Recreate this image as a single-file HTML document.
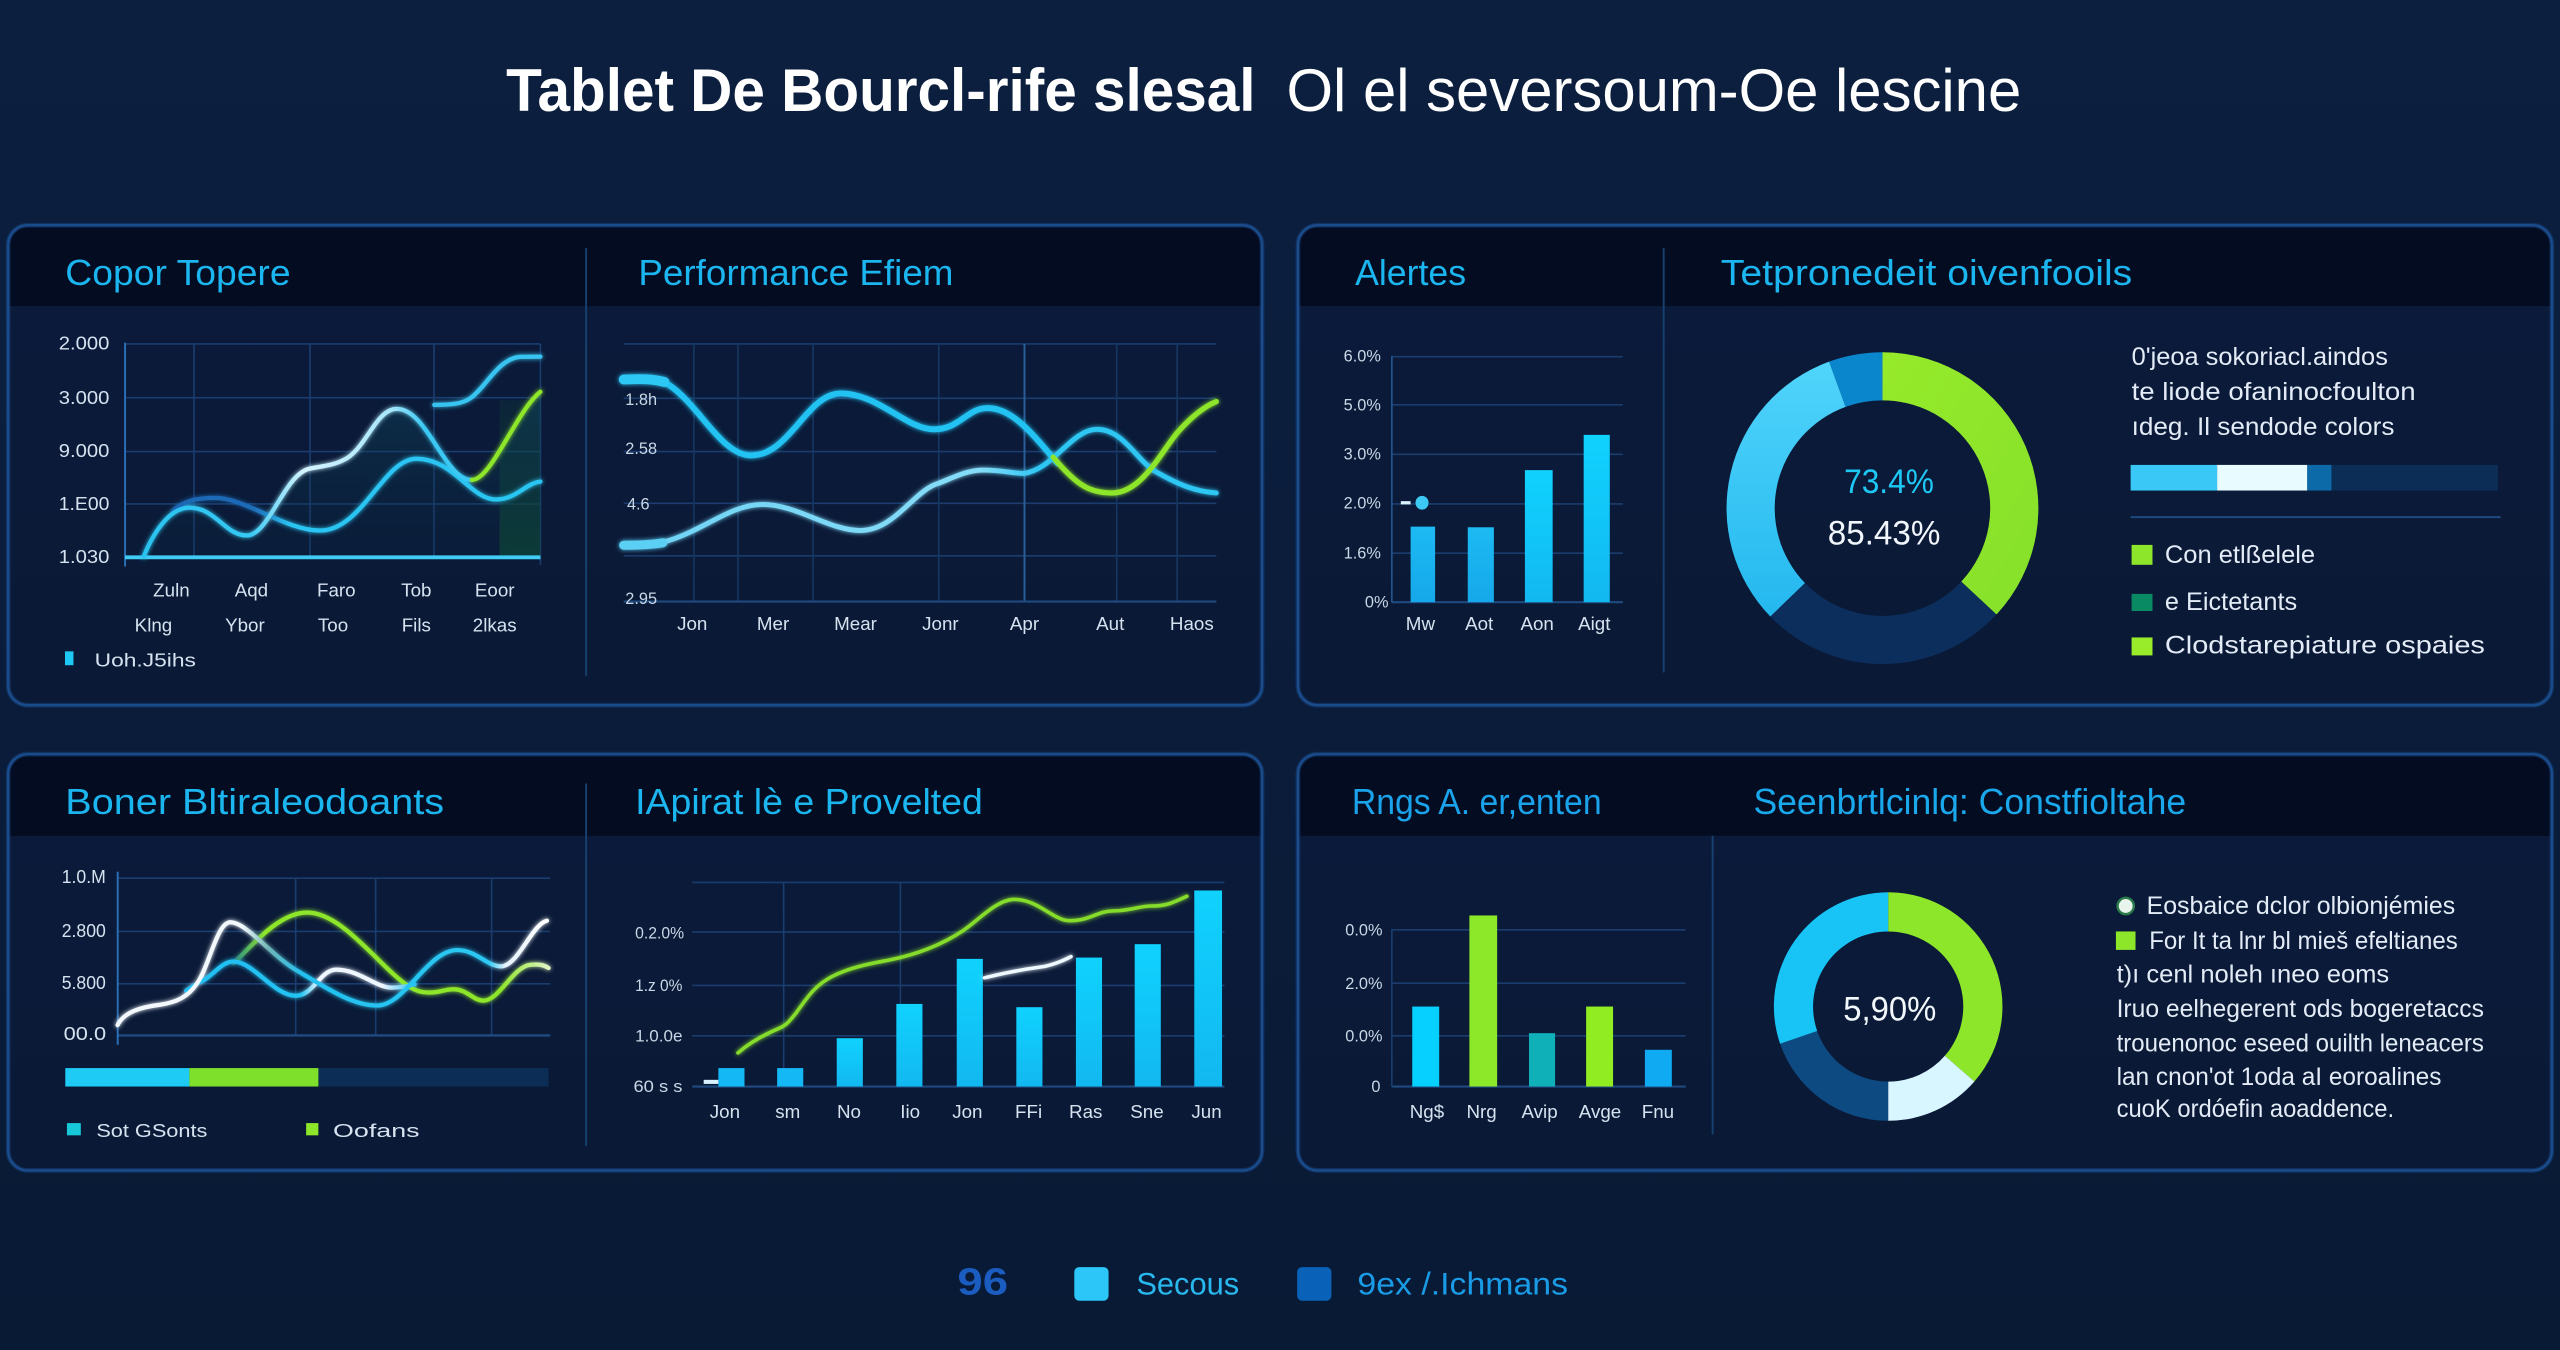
<!DOCTYPE html>
<html><head><meta charset="utf-8"><style>
html,body{margin:0;padding:0;background:#0b1d3a;}
svg{display:block}
.lab{fill:#d6e2ef;font-size:11.5px}
.sm{fill:#c9d7e6;font-size:10px}
.pt{fill:#1bb6ef;font-size:22px}
.bt{fill:#e3ecf6;font-size:15.5px}
</style></head><body>
<svg xmlns="http://www.w3.org/2000/svg" width="2560" height="1350" viewBox="0 0 1568 827" preserveAspectRatio="none" font-family="'Liberation Sans','DejaVu Sans',sans-serif">
<defs>
<linearGradient id="bg" x1="0" y1="0" x2="0" y2="1"><stop offset="0" stop-color="#0c1f3f"/><stop offset="1" stop-color="#091a35"/></linearGradient>
<linearGradient id="pbody" x1="0" y1="0" x2="0" y2="1"><stop offset="0" stop-color="#0b1b3b"/><stop offset="1" stop-color="#0a1935"/></linearGradient>
<clipPath id="c1"><rect x="5" y="138" width="768" height="294" rx="12"/></clipPath>
<clipPath id="c2"><rect x="795" y="138" width="768" height="294" rx="12"/></clipPath>
<clipPath id="c3"><rect x="5" y="462" width="768" height="255" rx="12"/></clipPath>
<clipPath id="c4"><rect x="795" y="462" width="768" height="255" rx="12"/></clipPath>
<filter id="glow" x="-10%" y="-30%" width="120%" height="160%"><feGaussianBlur stdDeviation="1.4" result="b"/><feMerge><feMergeNode in="b"/><feMergeNode in="SourceGraphic"/></feMerge></filter>
<linearGradient id="gA" gradientUnits="userSpaceOnUse" x1="76" y1="0" x2="331" y2="0">
<stop offset="0" stop-color="#29c2f0"/><stop offset="0.3" stop-color="#35c8f3"/><stop offset="0.43" stop-color="#d4f4ff"/><stop offset="0.64" stop-color="#a8e6fb"/><stop offset="0.72" stop-color="#3ac8f2"/><stop offset="1" stop-color="#3ac8f2"/></linearGradient>
<linearGradient id="gB" gradientUnits="userSpaceOnUse" x1="106" y1="0" x2="331" y2="0">
<stop offset="0" stop-color="#1e66b4"/><stop offset="0.22" stop-color="#1f6cb8"/><stop offset="0.32" stop-color="#2cc4f2"/><stop offset="1" stop-color="#2cc6f2"/></linearGradient>
<linearGradient id="gD" gradientUnits="userSpaceOnUse" x1="382" y1="0" x2="745" y2="0">
<stop offset="0" stop-color="#6fd3f5"/><stop offset="0.6" stop-color="#86dcf8"/><stop offset="0.7" stop-color="#2ec6f3"/><stop offset="1" stop-color="#2ec6f3"/></linearGradient>
<linearGradient id="g3A" gradientUnits="userSpaceOnUse" x1="72" y1="0" x2="336" y2="0">
<stop offset="0" stop-color="#f2f8fc"/><stop offset="0.29" stop-color="#f2f8fc"/><stop offset="0.35" stop-color="#6fb6b8"/><stop offset="0.43" stop-color="#22c0f0"/><stop offset="0.86" stop-color="#2cc8f2"/><stop offset="0.9" stop-color="#e6f3fc"/><stop offset="1" stop-color="#ffffff"/></linearGradient>
<linearGradient id="g3B" gradientUnits="userSpaceOnUse" x1="114" y1="0" x2="254" y2="0">
<stop offset="0" stop-color="#20bff2"/><stop offset="0.5" stop-color="#22c2f2"/><stop offset="0.58" stop-color="#eef6ff"/><stop offset="0.86" stop-color="#eef6ff"/><stop offset="1" stop-color="#28c0f0"/></linearGradient>
<linearGradient id="g3C" gradientUnits="userSpaceOnUse" x1="143" y1="0" x2="336" y2="0">
<stop offset="0" stop-color="#2a8a8a"/><stop offset="0.1" stop-color="#8ee62a"/><stop offset="0.85" stop-color="#8ee62a"/><stop offset="1" stop-color="#e2f5c4"/></linearGradient>
<linearGradient id="area" x1="0" y1="0" x2="0" y2="1"><stop offset="0" stop-color="#0f4a5e" stop-opacity="0.45"/><stop offset="1" stop-color="#0a2a44" stop-opacity="0.15"/></linearGradient>
<linearGradient id="garea" x1="0" y1="0" x2="0" y2="1"><stop offset="0" stop-color="#0f4a38" stop-opacity="0.2"/><stop offset="1" stop-color="#0d4a34" stop-opacity="0.75"/></linearGradient>
<linearGradient id="barA" x1="0" y1="0" x2="0" y2="1"><stop offset="0" stop-color="#10d2ff"/><stop offset="1" stop-color="#12b8f0"/></linearGradient>
<linearGradient id="barB" x1="0" y1="0" x2="0" y2="1"><stop offset="0" stop-color="#1cbaf3"/><stop offset="1" stop-color="#16a8ea"/></linearGradient>
<linearGradient id="dg" x1="0" y1="0" x2="1" y2="1"><stop offset="0" stop-color="#96ea2a"/><stop offset="1" stop-color="#86e02a"/></linearGradient>
<linearGradient id="dc" x1="0" y1="0" x2="0" y2="1"><stop offset="0" stop-color="#50d4fb"/><stop offset="1" stop-color="#24b8ef"/></linearGradient>
</defs>

<rect x="0" y="0" width="1568" height="827" fill="url(#bg)"/>

<!-- Title -->
<text x="310" y="68" font-size="37" font-weight="bold" fill="#ffffff" textLength="459" lengthAdjust="spacingAndGlyphs">Tablet De Bourcl-rife slesal</text>
<text x="788" y="68" font-size="37" fill="#ffffff" textLength="450" lengthAdjust="spacingAndGlyphs">Ol el seversoum-Oe lescine</text>

<!-- Panels -->
<g clip-path="url(#c1)"><rect x="5" y="138" width="768" height="294" fill="url(#pbody)"/><rect x="5" y="138" width="768" height="49.5" fill="#040c21"/></g>
<g clip-path="url(#c2)"><rect x="795" y="138" width="768" height="294" fill="url(#pbody)"/><rect x="795" y="138" width="768" height="49.5" fill="#040c21"/></g>
<g clip-path="url(#c3)"><rect x="5" y="462" width="768" height="255" fill="url(#pbody)"/><rect x="5" y="462" width="768" height="50" fill="#040c21"/></g>
<g clip-path="url(#c4)"><rect x="795" y="462" width="768" height="255" fill="url(#pbody)"/><rect x="795" y="462" width="768" height="50" fill="#040c21"/></g>
<g fill="none" stroke="#1d57a0" stroke-width="3" opacity="0.35">
<rect x="5" y="138" width="768" height="294" rx="12"/><rect x="795" y="138" width="768" height="294" rx="12"/>
<rect x="5" y="462" width="768" height="255" rx="12"/><rect x="795" y="462" width="768" height="255" rx="12"/></g>
<g fill="none" stroke="#1a4b8a" stroke-width="1.5">
<rect x="5" y="138" width="768" height="294" rx="12"/><rect x="795" y="138" width="768" height="294" rx="12"/>
<rect x="5" y="462" width="768" height="255" rx="12"/><rect x="795" y="462" width="768" height="255" rx="12"/></g>

<!-- dividers -->
<g stroke="#17406f" stroke-width="1.2">
<line x1="359" y1="152" x2="359" y2="414"/><line x1="1019" y1="152" x2="1019" y2="412"/>
<line x1="359" y1="480" x2="359" y2="702"/><line x1="1049" y1="512" x2="1049" y2="695"/></g>

<!-- Panel titles -->
<text class="pt" x="40" y="174.5" textLength="138" lengthAdjust="spacingAndGlyphs">Copor Topere</text>
<text class="pt" x="391" y="174.5" textLength="193" lengthAdjust="spacingAndGlyphs">Performance Efiem</text>
<text class="pt" x="830" y="174.5" textLength="68" lengthAdjust="spacingAndGlyphs">Alertes</text>
<text class="pt" x="1054" y="174.5" textLength="252" lengthAdjust="spacingAndGlyphs">Tetpronedeit oivenfooils</text>
<text class="pt" x="40" y="498.6" textLength="232" lengthAdjust="spacingAndGlyphs">Boner Bltiraleodoants</text>
<text class="pt" x="389" y="498.6" textLength="213" lengthAdjust="spacingAndGlyphs">IApirat lè e Provelted</text>
<text class="pt" x="828" y="498.6" textLength="153" lengthAdjust="spacingAndGlyphs" style="fill:#1aa2ea">Rngs A. er,enten</text>
<text class="pt" x="1074" y="498.6" textLength="265" lengthAdjust="spacingAndGlyphs" style="fill:#1aa8ec">Seenbrtlcinlq: Constfioltahe</text>

<!-- ===== Chart 1 ===== -->
<g stroke="#1a3d6e" stroke-width="1">
<line x1="76.6" y1="210.7" x2="331" y2="210.7"/><line x1="76.6" y1="243.6" x2="331" y2="243.6"/>
<line x1="76.6" y1="276.6" x2="331" y2="276.6"/><line x1="76.6" y1="308.7" x2="331" y2="308.7"/>
<line x1="118.8" y1="210.7" x2="118.8" y2="341"/><line x1="189.9" y1="210.7" x2="189.9" y2="341"/>
<line x1="265.8" y1="210.7" x2="265.8" y2="341"/><line x1="331" y1="210.7" x2="331" y2="346"/></g>
<line x1="76.6" y1="210" x2="76.6" y2="347" stroke="#2a6fb5" stroke-width="1.2"/>
<rect x="306" y="245" width="25" height="96" fill="url(#garea)"/>
<path d="M88,341 C94,326 104,311 116,311 C132,311 138,328 151,328 C165,328 174,290 190,287 C198,285.5 204,285 210,282 C224,276 230,250.5 243,250.5 C262,250.5 272,294 289,294 C301,294 316,252 331,240 L331,341 Z" fill="url(#area)"/>
<line x1="76.6" y1="341.4" x2="331" y2="341.4" stroke="#40ccf4" stroke-width="2.4"/>
<g fill="none" stroke-width="2.6" stroke-linecap="round" filter="url(#glow)">
<path d="M106,313 C112,307 120,305 132,305 C150,305 175,325 196,325 C222,325 235,281 255,281 C278,281 288,306 304,306 C316,306 322,296 331,295" stroke="url(#gB)"/>
<path d="M88,341 C94,326 104,311 116,311 C132,311 138,328 151,328 C165,328 174,290 190,287 C198,285.5 204,285 210,282 C224,276 230,250.5 243,250.5 C262,250.5 272,294 289,294" stroke="url(#gA)"/>
<path d="M289,294 C301,294 316,252 331,240" stroke="#8ee62a"/>
<path d="M266,248 C276,248 283,247.5 288,244 C297,238 305,220 318,218.6 L331,218.5" stroke="#38c4f0"/>
</g>
<g class="lab" font-size="11.5">
<text x="36" y="214" textLength="31" lengthAdjust="spacingAndGlyphs">2.000</text>
<text x="36" y="247.5" textLength="31" lengthAdjust="spacingAndGlyphs">3.000</text>
<text x="36" y="280" textLength="31" lengthAdjust="spacingAndGlyphs">9.000</text>
<text x="36" y="312.5" textLength="31" lengthAdjust="spacingAndGlyphs">1.E00</text>
<text x="36" y="345" textLength="31" lengthAdjust="spacingAndGlyphs">1.030</text>
</g>
<g class="lab" font-size="12.5" text-anchor="middle">
<text x="105" y="365.5">Zuln</text><text x="154" y="365.5">Aqd</text><text x="206" y="365.5">Faro</text><text x="255" y="365.5">Tob</text><text x="303" y="365.5">Eoor</text>
<text x="94" y="387">Klng</text><text x="150" y="387">Ybor</text><text x="204" y="387">Too</text><text x="255" y="387">Fils</text><text x="303" y="387">2lkas</text>
</g>
<rect x="39.8" y="399" width="5.2" height="8.5" fill="#1ec8f5"/>
<text class="lab" x="58" y="408.3" font-size="13" textLength="62" lengthAdjust="spacingAndGlyphs">Uoh.J5ihs</text>

<!-- ===== Chart 2 Performance ===== -->
<g stroke="#1a3d6e" stroke-width="1">
<line x1="382" y1="210.7" x2="745" y2="210.7"/><line x1="382" y1="244" x2="745" y2="244"/>
<line x1="382" y1="276.6" x2="745" y2="276.6"/><line x1="382" y1="308.3" x2="745" y2="308.3"/>
<line x1="382" y1="340.5" x2="745" y2="340.5"/></g>
<g stroke="#163660" stroke-width="1">
<line x1="425" y1="210.7" x2="425" y2="368.5"/><line x1="452" y1="210.7" x2="452" y2="368.5"/>
<line x1="498" y1="210.7" x2="498" y2="368.5"/><line x1="575" y1="210.7" x2="575" y2="368.5"/>
<line x1="684" y1="210.7" x2="684" y2="368.5"/><line x1="721" y1="210.7" x2="721" y2="368.5"/></g>
<line x1="627.5" y1="210.7" x2="627.5" y2="368.5" stroke="#2a5f9a" stroke-width="1.2"/>
<line x1="382" y1="368.5" x2="745" y2="368.5" stroke="#1f4a80" stroke-width="1.3"/>
<g class="sm">
<text x="383" y="248">1.8h</text><text x="383" y="278">2.58</text><text x="384" y="312">4.6</text><text x="383" y="370">2.95</text>
</g>
<g fill="none" stroke-linecap="round" filter="url(#glow)">
<path d="M382,334 C395,334 402,333 410,331 C432,324 448,309 467,309 C488,309 508,325 527,325 C548,325 560,300 575,296 C585,292 592,288.5 600,288 C612,287.5 620,290 627,290 C645,288 656,263 672,263 C688,263 696,282 708,289 C722,297 732,301 745,302" stroke="url(#gD)" stroke-width="3"/>
<path d="M382,232 C392,231 402,231 410,236 C428,248 442,279 460,279 C484,279 494,241 515,241 C538,241 555,263 572,263 C588,263 592,250 605,250 C621,250 634,268 648,284" stroke="#22c3f3" stroke-width="3.6"/>
<path d="M382,232.5 C392,232 400,232 407,234" stroke="#2ec8f5" stroke-width="6"/>
<path d="M382,334 C392,334 400,333.5 406,332.5" stroke="#5ccff5" stroke-width="5.5"/>
<path d="M645,280 C660,298 668,302 681,302 C700,302 712,275 722,264 C732,253 740,248 745,246" stroke="#8ee62a" stroke-width="3.2"/>
</g>
<g class="lab" font-size="12" text-anchor="middle">
<text x="424" y="386">Jon</text><text x="473.5" y="386">Mer</text><text x="524" y="386">Mear</text><text x="576" y="386">Jonr</text><text x="627.5" y="386">Apr</text><text x="680" y="386">Aut</text><text x="730" y="386">Haos</text>
</g>

<!-- ===== Alertes bar chart ===== -->
<g stroke="#1a3d6e" stroke-width="1">
<line x1="852.5" y1="218.5" x2="994" y2="218.5"/><line x1="852.5" y1="248" x2="994" y2="248"/>
<line x1="852.5" y1="278.3" x2="994" y2="278.3"/><line x1="852.5" y1="308.7" x2="994" y2="308.7"/>
<line x1="852.5" y1="338.9" x2="994" y2="338.9"/></g>
<line x1="852.5" y1="368.9" x2="994" y2="368.9" stroke="#1f4a80" stroke-width="1.3"/>
<line x1="852.5" y1="218" x2="852.5" y2="369" stroke="#24558f" stroke-width="1"/>
<rect x="864" y="322.6" width="15" height="46.3" fill="url(#barB)"/>
<rect x="899" y="323" width="16" height="45.9" fill="url(#barB)"/>
<rect x="934" y="288" width="17" height="80.9" fill="url(#barA)"/>
<rect x="970" y="266.4" width="16" height="102.5" fill="url(#barA)"/>
<rect x="858" y="307" width="6" height="2" fill="#d8f2ff"/>
<ellipse cx="871" cy="308" rx="4" ry="4.2" fill="#3ccaf5"/>
<g class="sm" font-size="9.5">
<text x="823" y="221.5">6.0%</text><text x="823" y="251.5">5.0%</text><text x="823" y="281.5">3.0%</text>
<text x="823" y="311.5">2.0%</text><text x="823" y="342">1.6%</text><text x="836" y="372">0%</text>
</g>
<g class="lab" font-size="11" text-anchor="middle">
<text x="870" y="386">Mw</text><text x="906" y="386">Aot</text><text x="941.5" y="386">Aon</text><text x="976.5" y="386">Aigt</text>
</g>

<!-- Donut 1 -->
<path d="M1153,215.8 A95.5,95.5 0 0 1 1222.85,376.43 L1201.27,356.31 A66,66 0 0 0 1153,245.3 Z" fill="url(#dg)"/>
<path d="M1222.85,376.43 A95.5,95.5 0 0 1 1084.31,377.64 L1105.53,357.15 A66,66 0 0 0 1201.27,356.31 Z" fill="#0c2e5c"/>
<path d="M1084.31,377.64 A95.5,95.5 0 0 1 1120.34,221.56 L1130.43,249.28 A66,66 0 0 0 1105.53,357.15 Z" fill="url(#dc)"/>
<path d="M1120.34,221.56 A95.5,95.5 0 0 1 1153,215.8 L1153,245.3 A66,66 0 0 0 1130.43,249.28 Z" fill="#0a86cc"/>
<text x="1157" y="302" font-size="21" fill="#1ec8f5" text-anchor="middle" textLength="55" lengthAdjust="spacingAndGlyphs">73.4%</text>
<text x="1154" y="333.5" font-size="21" fill="#f0f6fb" text-anchor="middle" textLength="69" lengthAdjust="spacingAndGlyphs">85.43%</text>

<!-- Panel 2 right text -->
<text class="bt" x="1305.6" y="223.5" textLength="157" lengthAdjust="spacingAndGlyphs">0'jeoa sokoriacl.aindos</text>
<text class="bt" x="1305.6" y="245" textLength="174" lengthAdjust="spacingAndGlyphs">te liode ofaninocfoulton</text>
<text class="bt" x="1305.6" y="266.4" textLength="161" lengthAdjust="spacingAndGlyphs">ıdeg. Il sendode colors</text>
<rect x="1305" y="284.8" width="225" height="15.7" fill="#0c2d55"/>
<rect x="1305" y="284.8" width="53" height="15.7" fill="#3ac8f6"/>
<rect x="1358" y="284.8" width="55.2" height="15.7" fill="#e8fbff"/>
<rect x="1413.2" y="284.8" width="14.8" height="15.7" fill="#0c6aa8"/>
<line x1="1305" y1="316.8" x2="1531.6" y2="316.8" stroke="#1d4a80" stroke-width="1.2"/>
<rect x="1305.6" y="333.8" width="12.8" height="12.2" fill="#8ee62a"/>
<text class="bt" x="1326" y="345" textLength="92" lengthAdjust="spacingAndGlyphs">Con etlßelele</text>
<rect x="1305.6" y="363.8" width="12.8" height="10.5" fill="#0a8a62"/>
<text class="bt" x="1326" y="373.6" textLength="81" lengthAdjust="spacingAndGlyphs">e Eictetants</text>
<rect x="1305.6" y="390.5" width="12.8" height="11" fill="#98ec2a"/>
<text class="bt" x="1326" y="400.2" textLength="196" lengthAdjust="spacingAndGlyphs">Clodstarepiature ospaies</text>

<!-- ===== Chart 3 (bottom left) ===== -->
<g stroke="#1a3d6e" stroke-width="1">
<line x1="72" y1="538" x2="337" y2="538"/><line x1="72" y1="570.6" x2="337" y2="570.6"/>
<line x1="72" y1="602.7" x2="337" y2="602.7"/>
<line x1="181.1" y1="538" x2="181.1" y2="634"/><line x1="230.1" y1="538" x2="230.1" y2="634"/><line x1="301.1" y1="538" x2="301.1" y2="634"/></g>
<line x1="72" y1="634.3" x2="337" y2="634.3" stroke="#1f4a80" stroke-width="1.5"/>
<line x1="72.1" y1="534" x2="72.1" y2="640" stroke="#2a6fb5" stroke-width="1.2"/>
<g fill="none" stroke-width="2.6" stroke-linecap="round" filter="url(#glow)">
<path d="M143,590 C152,582 170,559 188,559 C210,559 232,592 250,604 C256,608 260,608 264,608 C270,608 272,606 278,606 C286,606 290,613 296,613 C306,613 314,592 325,591 C330,590.5 333,591 336,593" stroke="url(#g3C)"/>
<path d="M114,607 C118,604 121,602 124,601 C131,597 136,589 143,589 C155,589 168,610 181,610 C192,610 196,594 206,594 C220,594 230,605 240,605 C246,605 250,604 254,603" stroke="url(#g3B)"/>
<path d="M72,628 C76,620 86,617 98,615.5 C108,614 115,611 121,602 C128,592 133,565 141,565 C151,565 166,585 181,594 C198,604 215,616 231,616 C248,616 262,582 280,582 C292,582 298,592 307,592 C317,592 326,566 335,564" stroke="url(#g3A)"/>
</g>
<g class="lab" font-size="11">
<text x="37.8" y="541" textLength="27" lengthAdjust="spacingAndGlyphs">1.0.M</text>
<text x="37.8" y="574" textLength="27" lengthAdjust="spacingAndGlyphs">2.800</text>
<text x="37.8" y="606" textLength="27" lengthAdjust="spacingAndGlyphs">5.800</text>
<text x="39" y="637" textLength="26" lengthAdjust="spacingAndGlyphs">00.0</text>
</g>
<rect x="40" y="654.3" width="296" height="11.3" fill="#0c2d55"/>
<rect x="40" y="654.3" width="76" height="11.3" fill="#1ecbf5"/>
<rect x="116" y="654.3" width="79" height="11.3" fill="#7ee02a"/>
<rect x="41" y="688" width="8.5" height="7.5" fill="#18c8d8"/>
<text class="lab" x="59" y="696.5" font-size="13" textLength="68" lengthAdjust="spacingAndGlyphs">Sot GSonts</text>
<rect x="187.5" y="688" width="7.5" height="7.5" fill="#8ee62a"/>
<text class="lab" x="204" y="696.5" font-size="13" textLength="53" lengthAdjust="spacingAndGlyphs">Oofans</text>

<!-- ===== Chart 4 bars+line ===== -->
<g stroke="#1a3d6e" stroke-width="1">
<line x1="424" y1="540.6" x2="750" y2="540.6"/><line x1="424" y1="571" x2="750" y2="571"/>
<line x1="424" y1="603.7" x2="750" y2="603.7"/><line x1="424" y1="634.5" x2="750" y2="634.5"/>
<line x1="480" y1="540.6" x2="480" y2="665.6"/><line x1="551.5" y1="540.6" x2="551.5" y2="665.6"/></g>
<line x1="424" y1="665.6" x2="750" y2="665.6" stroke="#1f4a80" stroke-width="1.3"/>
<g fill="url(#barA)">
<rect x="440" y="654.3" width="16" height="11.3" fill="#14b8f5"/>
<rect x="476" y="654.3" width="16" height="11.3" fill="#14b8f5"/>
<rect x="512.5" y="636" width="16" height="29.6"/>
<rect x="549" y="615" width="16" height="50.6"/>
<rect x="586" y="587.4" width="16" height="78.2"/>
<rect x="622.5" y="617" width="16" height="48.6"/>
<rect x="659" y="586.6" width="16" height="79"/>
<rect x="695" y="578.4" width="16" height="87.2"/>
<rect x="731.5" y="545.5" width="17" height="120.1"/>
</g>
<g fill="none" stroke-linecap="round" filter="url(#glow)">
<path d="M452,645 C460,638 470,633 477,630 C482,628 484,625 488,620 C495,610 500,603 510,598 C522,592 535,590 545,588 C560,585 575,580 590,570 C600,563 610,552 620,551 C635,550 645,564 655,564 C668,564 672,558 682,558 C692,558 698,555 705,555 C715,555 718,553 727,549" stroke="#86dc2c" stroke-width="2.2"/>
<path d="M603,599 C615,596 625,594 640,592 C648,590 652,588 656,586" stroke="#eef8ff" stroke-width="2.2"/>
</g>
<rect x="431" y="661.5" width="9" height="2.5" fill="#d8f2ff"/>
<g class="sm" font-size="10">
<text x="389" y="575" textLength="30" lengthAdjust="spacingAndGlyphs">0.2.0%</text>
<text x="389" y="607" textLength="29" lengthAdjust="spacingAndGlyphs">1.z 0%</text>
<text x="389" y="638" textLength="29" lengthAdjust="spacingAndGlyphs">1.0.0e</text>
<text x="388" y="669" textLength="30" lengthAdjust="spacingAndGlyphs">60 s s</text>
</g>
<g class="lab" font-size="11" text-anchor="middle">
<text x="444" y="685">Jon</text><text x="482.5" y="685">sm</text><text x="520" y="685">No</text><text x="557.5" y="685">Iio</text><text x="592.5" y="685">Jon</text><text x="630" y="685">FFi</text><text x="665" y="685">Ras</text><text x="702.5" y="685">Sne</text><text x="739" y="685">Jun</text>
</g>

<!-- ===== Panel 4 bar chart ===== -->
<g stroke="#1a3d6e" stroke-width="1">
<line x1="852.5" y1="569.6" x2="1032.5" y2="569.6"/><line x1="852.5" y1="602.3" x2="1032.5" y2="602.3"/>
<line x1="852.5" y1="634.5" x2="1032.5" y2="634.5"/></g>
<line x1="852.5" y1="665.6" x2="1032.5" y2="665.6" stroke="#1f4a80" stroke-width="1.3"/>
<line x1="852.5" y1="569" x2="852.5" y2="666" stroke="#1a3d6e" stroke-width="1"/>
<rect x="865" y="616.6" width="16.5" height="49" fill="#06d0ff"/>
<rect x="900" y="560.8" width="17" height="104.8" fill="#8ee82a"/>
<rect x="936.5" y="632.9" width="16" height="32.7" fill="#10b0b8"/>
<rect x="971.5" y="616.6" width="16.5" height="49" fill="#92ec22"/>
<rect x="1007.5" y="643.1" width="16.5" height="22.5" fill="#10aaf2"/>
<g class="sm" font-size="9.5">
<text x="824" y="573">0.0%</text><text x="824" y="606">2.0%</text><text x="824" y="638">0.0%</text><text x="840" y="669">0</text>
</g>
<g class="lab" font-size="10.5" text-anchor="middle">
<text x="874" y="685">Ng$</text><text x="907.5" y="685">Nrg</text><text x="943" y="685">Avip</text><text x="980" y="685">Avge</text><text x="1015.5" y="685">Fnu</text>
</g>

<!-- Donut 2 -->
<path d="M1156.5,546.6 A70,70 0 0 1 1209.33,662.53 L1191.22,646.78 A46,46 0 0 0 1156.5,570.6 Z" fill="#8ee62a"/>
<path d="M1209.33,662.53 A70,70 0 0 1 1156.5,686.6 L1156.5,662.6 A46,46 0 0 0 1191.22,646.78 Z" fill="#d8f6ff"/>
<path d="M1156.5,686.6 A70,70 0 0 1 1090.31,639.39 L1113.01,631.58 A46,46 0 0 0 1156.5,662.6 Z" fill="#0e4a82"/>
<path d="M1090.31,639.39 A70,70 0 0 1 1156.5,546.6 L1156.5,570.6 A46,46 0 0 0 1113.01,631.58 Z" fill="#18c4f5"/>
<text x="1157.5" y="625" font-size="21" fill="#f2f7fb" text-anchor="middle" textLength="57" lengthAdjust="spacingAndGlyphs">5,90%</text>

<!-- Panel 4 right text -->
<circle cx="1302" cy="555" r="5" fill="#e8f4ec" stroke="#2a7a4a" stroke-width="1.5"/>
<text class="bt" x="1314.8" y="560" textLength="189" lengthAdjust="spacingAndGlyphs">Eosbaice dclor olbionjémies</text>
<rect x="1296" y="570.6" width="12" height="11.3" fill="#8ee62a"/>
<text class="bt" x="1316.4" y="581.5" textLength="189" lengthAdjust="spacingAndGlyphs">For It ta lnr bl mieš efeltianes</text>
<text class="bt" x="1296.4" y="602" textLength="167" lengthAdjust="spacingAndGlyphs">t)ı cenl noleh ıneo eoms</text>
<text class="bt" x="1296.4" y="623" textLength="225" lengthAdjust="spacingAndGlyphs">Iruo eelhegerent ods bogeretaccs</text>
<text class="bt" x="1296.4" y="644" textLength="225" lengthAdjust="spacingAndGlyphs">trouenonoc eseed ouilth leneacers</text>
<text class="bt" x="1296.4" y="664.6" textLength="199" lengthAdjust="spacingAndGlyphs">lan cnon'ot 1oda aI eoroalines</text>
<text class="bt" x="1296.4" y="684.4" textLength="170" lengthAdjust="spacingAndGlyphs">cuoK ordóefin aoaddence.</text>

<!-- Bottom legend -->
<text x="586.4" y="793" font-size="23" font-weight="bold" fill="#1a5cc0" textLength="31" lengthAdjust="spacingAndGlyphs">96</text>
<rect x="658" y="776.2" width="21" height="20.6" rx="3" fill="#2cc6f8"/>
<text x="696" y="793" font-size="19" fill="#28b8ee" textLength="63" lengthAdjust="spacingAndGlyphs">Secous</text>
<rect x="794.5" y="776.2" width="21" height="20.6" rx="3" fill="#0a62b8"/>
<text x="831.4" y="793" font-size="19" fill="#1a9be6" textLength="129" lengthAdjust="spacingAndGlyphs">9ex /.Ichmans</text>
</svg>
</body></html>
